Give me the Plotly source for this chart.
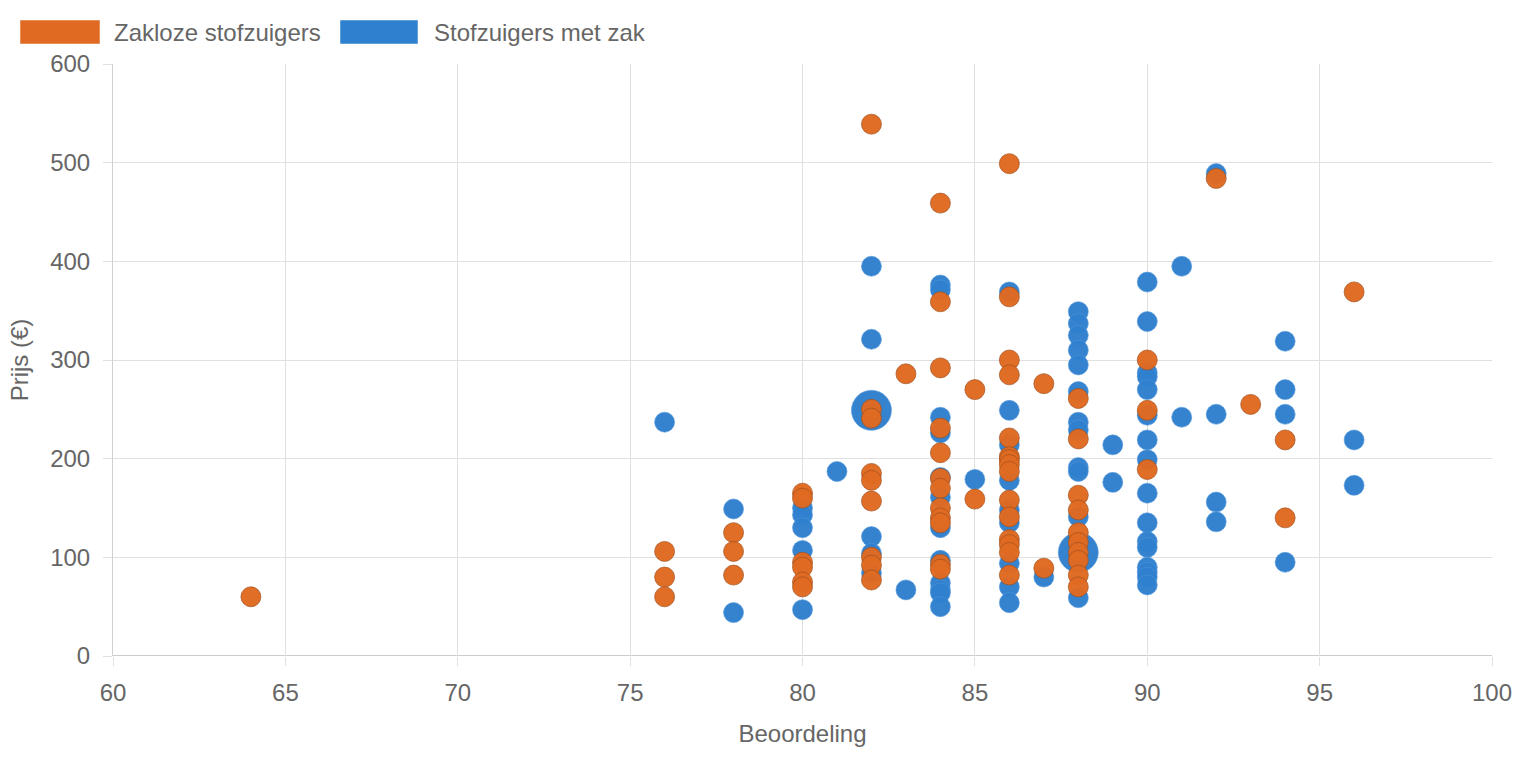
import plotly.graph_objects as go

# ---- data ----
zakloos_x = ([64] + [76]*3 + [78]*3 + [80]*6 + [82]*9 + [83] + [84]*12 + [85]*2 +
             [86]*15 + [87]*2 + [88]*10 + [90]*3 + [92] + [93] + [94]*2 + [96])
zakloos_y = ([60] +
             [106, 80, 60] +
             [125, 106, 82] +
             [165, 160, 95, 90, 75, 70] +
             [539, 250, 241, 185, 178, 157, 100, 92, 77] +
             [286] +
             [459, 359, 292, 231, 206, 180, 170, 150, 140, 135, 93, 88] +
             [270, 159] +
             [499, 364, 300, 285, 221, 202, 199, 194, 187, 158, 141, 118, 113, 105, 82] +
             [276, 89] +
             [261, 220, 163, 148, 125, 115, 105, 97, 82, 70] +
             [300, 249, 189] +
             [484] + [255] + [219, 140] + [369])

zak_x = ([76] + [78]*2 + [80]*5 + [81] + [82]*6 + [83] + [84]*12 + [85] + [86]*9 + [87] +
         [88]*13 + [89]*2 + [90]*16 + [91]*2 + [92]*4 + [94]*4 + [96]*2)
zak_y = ([237] +
         [149, 44] +
         [150, 143, 130, 107, 47] +
         [187] +
         [395, 321, 249, 121, 104, 84] +
         [67] +
         [376, 371, 242, 226, 181, 161, 130, 97, 74, 67, 64, 50] +
         [179] +
         [369, 249, 214, 178, 148, 135, 94, 70, 54] +
         [80] +
         [349, 337, 325, 310, 295, 268, 237, 229, 191, 187, 141, 105, 59] +
         [214, 176] +
         [379, 339, 287, 283, 270, 244, 219, 199, 165, 135, 116, 110, 90, 85, 80, 72] +
         [395, 242] +
         [489, 245, 156, 136] +
         [319, 270, 245, 95] +
         [219, 173])
# points that are drawn larger (grouped duplicates)
zak_big = [(82, 249), (88, 105)]

x_ticks = [60, 65, 70, 75, 80, 85, 90, 95, 100]
y_ticks = [0, 100, 200, 300, 400, 500, 600]

ORANGE = "#E06A21"
BLUE = "#2F80CE"

zak_size = [40 if (x, y) in zak_big else 20 for x, y in zip(zak_x, zak_y)]

fig = go.Figure()
fig.add_trace(go.Scatter(
    x=zak_x, y=zak_y, mode="markers", name="Stofzuigers met zak",
    marker=dict(color=BLUE, size=zak_size, opacity=0.97,
                line=dict(color="rgba(80,150,220,0.6)", width=1)),
    showlegend=False))
fig.add_trace(go.Scatter(
    x=zakloos_x, y=zakloos_y, mode="markers", name="Zakloze stofzuigers",
    marker=dict(color=ORANGE, size=20, opacity=0.97,
                line=dict(color="rgba(160,80,30,0.7)", width=1)),
    showlegend=False))

FONT = "Liberation Sans, Arial, sans-serif"
FS = 24
axis_common = dict(showgrid=True, gridcolor="#e0e0e0", gridwidth=1,
                   ticks="outside", ticklen=9, tickcolor="#e0e0e0",
                   tickfont=dict(family=FONT, size=FS, color="#666666"),
                   zeroline=False, automargin=False)

fig.update_xaxes(range=[60, 100], tickvals=x_ticks, ticktext=[str(v) for v in x_ticks],
                 ticklabelstandoff=6, showline=False,
                 title=dict(text="Beoordeling", font=dict(family=FONT, size=FS, color="#666666"),
                            standoff=20),
                 **axis_common)
fig.update_yaxes(range=[0, 600], tickvals=y_ticks, ticktext=[str(v) for v in y_ticks],
                 ticklabelstandoff=8, showline=True, linecolor="#d0d0d0", linewidth=1,
                 title=dict(text="Prijs (€)", font=dict(family=FONT, size=FS, color="#666666"),
                            standoff=14),
                 **axis_common)

# bottom axis line (slightly darker)
fig.add_shape(type="line", xref="paper", yref="y", x0=0, x1=1, y0=0, y1=0,
              line=dict(color="#cccccc", width=2), layer="below")

# custom legend (wide colour boxes like the reference), positioned in pixels
W, H = 1518, 758
L, R, T, B = 113, 26, 64, 102
PW, PH = W - L - R, H - T - B
def px_x(p):
    return (p - L) / PW
def px_y(p):
    return (H - B - p) / PH

legend_items = [("Zakloze stofzuigers", ORANGE, 20, 100, 112),
                ("Stofzuigers met zak", BLUE, 340, 418, 432)]
for text, col, x0, x1, tx in legend_items:
    fig.add_shape(type="rect", xref="paper", yref="paper",
                  x0=px_x(x0), x1=px_x(x1), y0=px_y(44), y1=px_y(20),
                  fillcolor=col, line=dict(color="rgba(255,255,255,0.5)", width=1))
    fig.add_annotation(x=px_x(tx), y=px_y(32), xref="paper", yref="paper",
                       text=text, showarrow=False, xanchor="left", yanchor="middle",
                       font=dict(family=FONT, size=FS, color="#666666"))

fig.update_layout(
    width=W, height=H,
    margin=dict(l=L, r=R, t=T, b=B),
    plot_bgcolor="white", paper_bgcolor="white",
    showlegend=False,
    font=dict(family=FONT, color="#666666"),
)

fig.write_html("out.html")
